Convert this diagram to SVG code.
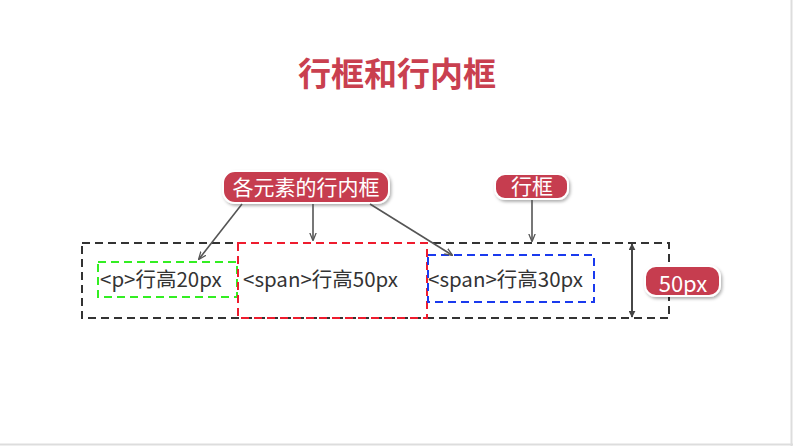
<svg xmlns="http://www.w3.org/2000/svg" width="793" height="446" viewBox="0 0 793 446">
  <defs>
    <marker id="arrow" viewBox="0 0 10 10" refX="9" refY="5" markerWidth="7" markerHeight="7" orient="auto-start-reverse" markerUnits="userSpaceOnUse">
      <path d="M0,0 L10,5 L0,10 Z" fill="#444"/>
    </marker>
    <marker id="arrowS" viewBox="0 0 10 10" refX="9" refY="5" markerWidth="8" markerHeight="8" orient="auto" markerUnits="userSpaceOnUse">
      <path d="M0,1 L10,5 L0,9" fill="none" stroke="#555" stroke-width="1.6"/>
    </marker>
    <filter id="shadow" x="-20%" y="-30%" width="140%" height="170%">
      <feDropShadow dx="1.5" dy="2" stdDeviation="1.5" flood-color="#000" flood-opacity="0.3"/>
    </filter>
  </defs>
  <style>
    text { font-family: "Noto Sans CJK SC", "Noto Sans", sans-serif; }
    .title { font-size: 33px; font-weight: bold; fill: #c9404f; }
    .label { font-size: 20.5px; fill: #333; }
    .pill { fill: #c63d4f; stroke: #fff; stroke-width: 2; filter: url(#shadow); }
    .pilltext { font-size: 21px; fill: #fff; text-anchor: middle; }
    .dash { fill: none; stroke-width: 2; stroke-dasharray: 8 5; }
    .conn { stroke: #555; stroke-width: 1.6; fill: none; }
  </style>

  <rect x="0" y="0" width="793" height="446" fill="#fff"/>
  <!-- slide frame edges -->
  <line x1="791.5" y1="0" x2="791.5" y2="446" stroke="#ddd" stroke-width="2"/>
  <line x1="0" y1="444.5" x2="793" y2="444.5" stroke="#ddd" stroke-width="2"/>

  <text class="title" x="397" y="86" text-anchor="middle">行框和行内框</text>

  <!-- line box and inline boxes -->
  <g id="line-box">
    <rect class="dash" x="82" y="243" width="587" height="75" stroke="#333"/>
  </g>
  <g id="inline-p">
    <rect class="dash" x="98" y="262" width="139" height="35" stroke="#33ee22"/>
    <text class="label" x="100" y="287">&lt;p&gt;行高20px</text>
  </g>
  <g id="inline-span50">
    <rect class="dash" x="238" y="243" width="189" height="75" stroke="#ee1c2e"/>
    <text class="label" x="243" y="287">&lt;span&gt;行高50px</text>
  </g>
  <g id="inline-span30">
    <rect class="dash" x="428" y="255" width="166" height="47" stroke="#1a3aee"/>
    <text class="label" x="428" y="287">&lt;span&gt;行高30px</text>
  </g>

  <!-- callouts -->
  <g id="callout-inline">
    <rect class="pill" x="223" y="171" width="166" height="32" rx="12"/>
    <text class="pilltext" x="306" y="195">各元素的行内框</text>
  </g>
  <g id="callout-line">
    <rect class="pill" x="495" y="174" width="73" height="25" rx="10"/>
    <text class="pilltext" x="532" y="194">行框</text>
  </g>
  <g id="callout-height">
    <rect class="pill" x="645" y="266" width="75" height="30" rx="11"/>
    <text class="pilltext" x="683" y="292" style="font-size:22px">50px</text>
  </g>

  <g id="connectors">
    <line class="conn" x1="242" y1="204" x2="199" y2="259" marker-end="url(#arrowS)"/>
    <line class="conn" x1="313" y1="204" x2="313" y2="240" marker-end="url(#arrowS)"/>
    <line class="conn" x1="370" y1="204" x2="452" y2="255" marker-end="url(#arrowS)"/>
    <line class="conn" x1="532" y1="200" x2="532" y2="241" marker-end="url(#arrowS)"/>
    <line x1="632" y1="244" x2="632" y2="317" stroke="#333" stroke-width="1.8" marker-start="url(#arrow)" marker-end="url(#arrow)"/>
  </g>
</svg>
